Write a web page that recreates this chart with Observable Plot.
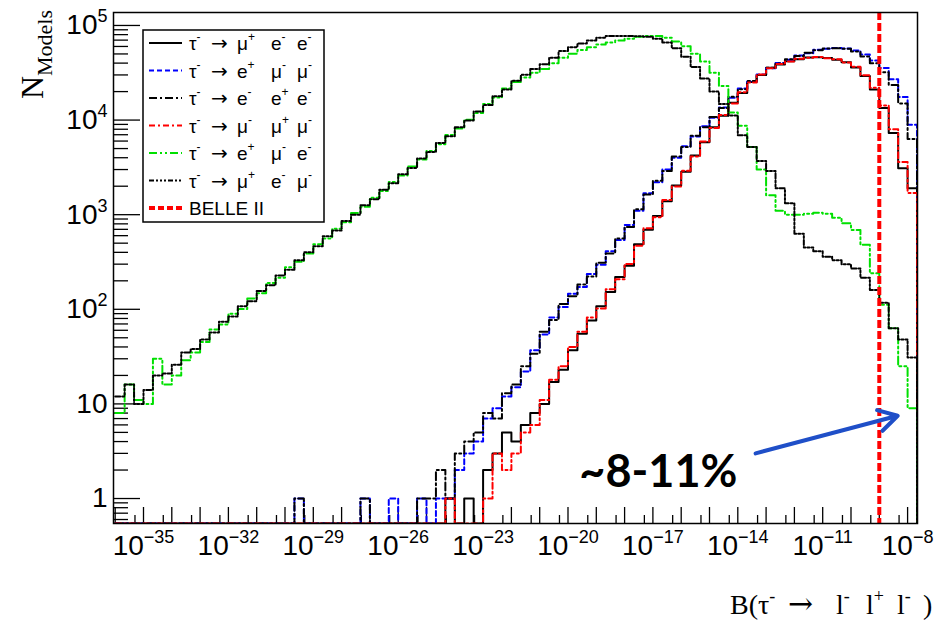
<!DOCTYPE html>
<html><head><meta charset="utf-8">
<script src="https://cdn.jsdelivr.net/npm/d3@7"></script>
<script src="https://cdn.jsdelivr.net/npm/@observablehq/plot@0.6"></script>
<style>body{margin:0;background:#fff}</style>
</head><body><div id="chart"></div>
<script>
// ---- binning: log10 of first bin edge and bin width (decades) ----
const binStart = -36;
const binWidth = 1 / 3;

// ---- histogram counts per bin (85 bins) ----
// τ⁻ → μ⁺ e⁻ e⁻  (black solid)
const tauMuPEmEm = [
  0,0,0,0,0,0,0,0,0,0, 0,0,0,0,0,0,0,0,0,0, 0,0,0,0,0,0,0,0,0,0, 0,0,0,0,0,
  1,0,1,0,2,3,5,4,6,8,10,17,23,37,55,
  76,108,152,220,288,488,695,970,1390,2030,2840,4220,5820,8400,11100,15200,19300,25300,30000,35800,
  38700,41900,44000,45900,46000,45400,43500,40900,36000,29200,21000,13400,7300,3100,1900
];
// τ⁻ → e⁺ μ⁻ μ⁻  (blue dashed)
const tauEPMumMum = [
  0,0,0,0,0,0,0,0,0,0, 0,0,0,0,0,0,0,0,0,
  1,0,0,0,0,0,0,1,0,0,1,0,0,1,0,1,1,2,3,4,7,9,12,15,
  22,37,54,82,106,146,172,236,295,410,540,780,1100,1690,2200,3000,4000,5300,6700,8600,
  10600,13600,17200,21600,25500,30400,35300,40000,43500,48200,51000,55300,56600,57800,57200,54500,
  49200,42500,35500,27000,17500,8900
];
// τ⁻ → e⁻ e⁺ e⁻  (black dash-dot)
const tauEmEPEm = [
  0,0,0,0,0,0,0,0,0,0, 0,0,0,0,0,0,0,0,0,
  1,0,0,0,0,0,0,1,0,0,0,0,0,1,1,2,1,3,4,5,8,7,13,16,
  25,34,58,77,114,137,183,222,310,388,560,740,1140,1630,2280,2900,4120,5200,6820,8420,
  10800,13400,17600,21200,25900,30000,35700,39600,43900,47600,51500,54700,57100,57300,56600,53000,
  47000,39800,32000,23500,15000,6300
];
// τ⁻ → μ⁻ μ⁺ μ⁻  (red dash-dot)
const tauMumMuPMum = [
  0,0,0,0,0,0,0,0,0,0, 0,0,0,0,0,0,0,0,0,0, 0,0,0,0,0,0,0,0,0,0, 0,0,0,0,0,
  1,0,0,0,1,3,2,3,5,6,11,18,25,40,58,
  82,102,163,208,302,470,720,940,1430,1980,2920,4120,5950,8250,11300,15000,19700,24900,30400,35200,
  39100,41500,44400,45500,46400,45000,43900,40500,36600,29800,22000,14300,8000,3600,1700
];
// τ⁻ → e⁺ μ⁻ e⁻  (green dash-dot-dot)
const tauEPMumEm = [
  8,16,11,10,30,16,20,29,35,45,
  61,69,90,101,130,148,190,216,278,318,
  388,488,560,710,830,1040,1210,1510,1780,2220,
  2600,3240,3820,4720,5560,6950,8150,10100,11900,14800,17300,21600,25200,
  28200,31600,34700,39800,45700,50100,55000,58900,63100,66100,69200,72400,75900,77600,77600,74100,
  67600,60300,50100,41700,31600,22900,12000,8700,5200,3000,1600,1100,1000,1000,1020,1050,
  1020,930,810,690,480,240,112,63,25,9
];
// τ⁻ → μ⁺ e⁻ μ⁻  (black dash-dot-dot)
const tauMuPEmMum = [
  12,16,10,14,20,21,26,35,38,48,
  57,74,84,108,122,156,180,228,262,330,
  402,465,590,680,860,1000,1260,1460,1840,2150,
  2680,3120,3930,4600,5720,6750,8400,9900,12300,14400,17900,21000,26000,
  30200,34700,38900,45700,53700,58900,64600,69200,74100,77600,77600,77600,77000,75900,72400,66100,
  57500,46800,36300,27500,20000,14800,11200,6900,5200,3700,2900,1900,1320,630,450,410,
  360,330,300,270,215,160,117,63,48,31
];

// ---- Belle II sensitivity line ----
const belle2Limit = [1e-9];

// ---- axis tick labels ----
const xLabelExponents = [-35, -32, -29, -26, -23, -20, -17, -14, -11, -8];
const yLabelValues = [1, 10, 100, 1000, 10000, 100000];
const legendLabels = [
  [["τ","-"],["→",""],["μ","+"],["e","-"],["e","-"]],
  [["τ","-"],["→",""],["e","+"],["μ","-"],["μ","-"]],
  [["τ","-"],["→",""],["e","-"],["e","+"],["e","-"]],
  [["τ","-"],["→",""],["μ","-"],["μ","+"],["μ","-"]],
  [["τ","-"],["→",""],["e","+"],["μ","-"],["e","-"]],
  [["τ","-"],["→",""],["μ","+"],["e","-"],["μ","-"]]
];
const belleLabel = "BELLE II";
const xTitleParts = [["B(τ", "-"], ["→", ""], ["l", "-"], ["l", "+"], ["l", "-"], [")", ""]];
const annotationLabel = ["~8-11%"];

// ---- layout ----
const W = 944, H = 624, mL = 113, mR = 27, mT = 12, mB = 101;
const plotW = W - mL - mR, plotH = H - mT - mB;
const yMin = 10 ** -0.264, yMax = 10 ** 5.137;

const seriesDefs = [
  {values: tauMuPEmEm,   stroke: "#000000", dash: null},
  {values: tauEPMumMum,  stroke: "#0000ff", dash: "5,3"},
  {values: tauEmEPEm,    stroke: "#000000", dash: "8,3,2,3"},
  {values: tauMumMuPMum, stroke: "#ff0000", dash: "6,3,2,3"},
  {values: tauEPMumEm,   stroke: "#00e000", dash: "8,3,2,3,2,3"},
  {values: tauMuPEmMum,  stroke: "#000000", dash: "5,2,2,2,2,2,2,2"}
];

function histRows(values) {
  const rows = values.map((v, i) => ({x: 10 ** (binStart + i * binWidth), y: Math.max(v, yMin)}));
  rows.push({x: 10 ** (binStart + values.length * binWidth), y: yMin});
  return rows;
}

const fmtX = v => "10^" + Math.round(Math.log10(v));
const fmtY = v => { const e = Math.round(Math.log10(v)); return e === 0 ? "1" : e === 1 ? "10" : "10^" + e; };

const xMajor = d3.range(-36, -7).map(e => 10 ** e);
const xMinor = d3.range(-36, -8).map(e => 5 * 10 ** e);
const yMajor = d3.range(0, 6).map(e => 10 ** e);
const yMinor = [0.6, 0.7, 0.8, 0.9].concat(...d3.range(0, 5).map(n => d3.range(2, 10).map(k => k * 10 ** n)));

const lineMarks = seriesDefs.map(s => Plot.line(histRows(s.values), {
  x: "x", y: "y", curve: "step-after", stroke: s.stroke, strokeWidth: 2,
  strokeDasharray: s.dash, clip: true
}));

const plot = Plot.plot({
  width: W, height: H, marginLeft: mL, marginRight: mR, marginTop: mT, marginBottom: mB,
  style: {fontFamily: "'Liberation Sans', Arial, sans-serif", fontSize: "28px", color: "#000", background: "#fff", overflow: "visible"},
  x: {type: "log", domain: [10 ** -36.06, 10 ** -7.65]},
  y: {type: "log", domain: [yMin, yMax]},
  marks: [
    Plot.tickX(xMinor, {x: d => d, insetTop: plotH - 8, stroke: "#000", strokeWidth: 1.3}),
    Plot.tickX(xMajor, {x: d => d, insetTop: plotH - 16, stroke: "#000", strokeWidth: 1.3}),
    Plot.tickY(yMinor, {y: d => d, insetRight: plotW - 15, stroke: "#000", strokeWidth: 1.3}),
    Plot.tickY(yMajor, {y: d => d, insetRight: plotW - 27, stroke: "#000", strokeWidth: 1.3}),
    Plot.axisX({ticks: xLabelExponents.map(e => 10 ** e), tickSize: 0, tickPadding: 12, tickFormat: fmtX, label: null, fontSize: 28}),
    Plot.axisY({ticks: yLabelValues, tickSize: 0, tickPadding: 6, tickFormat: fmtY, label: null, fontSize: 28}),
    ...lineMarks,
    Plot.ruleX(belle2Limit, {x: d => d, stroke: "#ff0000", strokeWidth: 4, strokeDasharray: "8,3"}),
    Plot.arrow([{x1: 10 ** -13.37, y1: 3.0, x2: 10 ** -8.35, y2: 7.5}], {
      x1: "x1", y1: "y1", x2: "x2", y2: "y2", stroke: "#1f4fc8", strokeWidth: 4, headLength: 8
    }),
    Plot.text(annotationLabel, {
      x: () => 10 ** -19.6, y: () => 1.86, text: d => d, textAnchor: "start",
      fontFamily: "Lato, 'Open Sans', sans-serif", fontWeight: "bold", fontSize: 45, fill: "#000"
    }),
    Plot.frame({stroke: "#000", strokeWidth: 1.5})
  ]
});

const svg = d3.select(plot);

// turn "10^e" tick labels into base + raised exponent
svg.selectAll("text").each(function () {
  const m = (this.textContent || "").match(/^10\^(-?\d+)$/);
  if (!m) return;
  const t = d3.select(this);
  t.text(null);
  t.append("tspan").text("10");
  t.append("tspan").attr("font-size", 18).attr("dy", -12).text(m[1].replace("-", "\u2212"));
});

// legend
const lg = svg.append("g").attr("font-family", "'Liberation Sans', Arial, sans-serif").attr("text-anchor", "start");
lg.append("rect").attr("x", 143).attr("y", 30).attr("width", 181).attr("height", 192)
  .attr("fill", "#fff").attr("stroke", "#000").attr("stroke-width", 1.5);
const cols = [189, 211, 237, 271, 297];
const legendLines = seriesDefs.map(s => ({stroke: s.stroke, dash: s.dash, width: 2}))
  .concat([{stroke: "#ff0000", dash: "6,3", width: 4}]);
legendLines.forEach((ln, k) => {
  const y = 43 + k * 27.5;
  lg.append("line").attr("x1", 149).attr("x2", 182).attr("y1", y).attr("y2", y)
    .attr("stroke", ln.stroke).attr("stroke-width", ln.width).attr("stroke-dasharray", ln.dash);
  if (k < legendLabels.length) {
    legendLabels[k].forEach((p, j) => {
      const isArrow = p[0] === "→";
      const t = lg.append("text").attr("x", cols[j]).attr("y", y + 7)
        .attr("font-size", isArrow ? 20 : 19).attr("fill", "#000");
      if (isArrow) t.attr("font-family", "'DejaVu Sans', sans-serif");
      t.append("tspan").text(p[0]);
      if (p[1]) t.append("tspan").attr("font-size", 12).attr("dy", -9).text(p[1]);
    });
  } else {
    lg.append("text").attr("x", 189).attr("y", y + 7).attr("font-size", 19).attr("fill", "#000").text(belleLabel);
  }
});

// x axis title, pieces placed along the baseline
const xtCols = [730, 788, 836, 866, 897, 923];
const xtg = svg.append("g").attr("text-anchor", "start").attr("fill", "#000")
  .attr("font-family", "'Liberation Serif', 'Times New Roman', serif");
xTitleParts.forEach(([b, s], i) => {
  const isArrow = b === "→";
  const t = xtg.append("text").attr("x", xtCols[i]).attr("y", 614).attr("font-size", isArrow ? 30 : 28);
  if (isArrow) t.attr("font-family", "'DejaVu Serif', serif");
  t.append("tspan").text(b);
  if (s) t.append("tspan").attr("font-size", 18).attr("dy", -12).text(s);
});

// y axis title
const yt = svg.append("text").attr("transform", "translate(43,10) rotate(-90)").attr("text-anchor", "end")
  .attr("font-family", "'Liberation Serif', 'Times New Roman', serif").attr("font-size", 32).attr("fill", "#000");
yt.append("tspan").text("N");
yt.append("tspan").attr("font-size", 22).attr("dy", 9).text("Models");

document.getElementById("chart").append(plot);
</script>
</body></html>
